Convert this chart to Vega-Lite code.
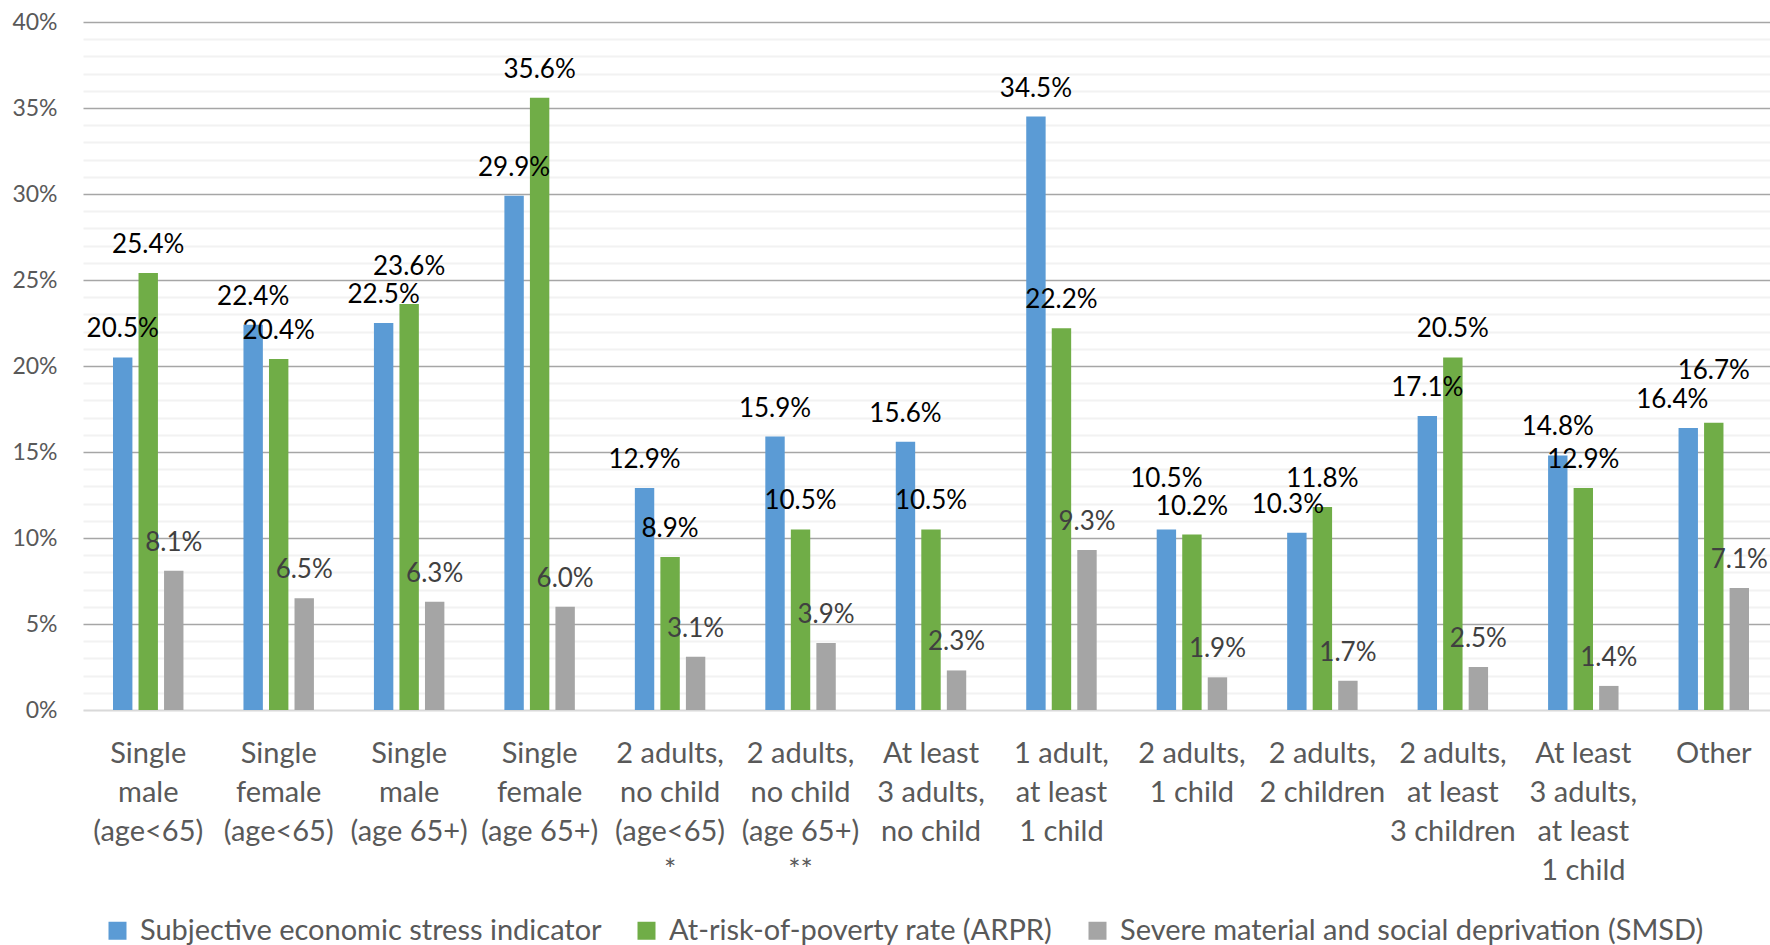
{
  "$schema": "https://vega.github.io/schema/vega-lite/v6.json",
  "width": 1687,
  "height": 688,
  "autosize": {"type": "none"},
  "padding": {"left": 83, "top": 22, "right": 0, "bottom": 235},
  "background": "white",
  "config": {
    "font": "Lato",
    "view": {"stroke": null}
  },
  "data": {
    "values": [
      {"group": "Single|male|(age<65)", "series": "Subjective economic stress indicator", "value": 0.205},
      {"group": "Single|male|(age<65)", "series": "At-risk-of-poverty rate (ARPR)", "value": 0.254},
      {"group": "Single|male|(age<65)", "series": "Severe material and social deprivation (SMSD)", "value": 0.081},
      {"group": "Single|female|(age<65)", "series": "Subjective economic stress indicator", "value": 0.224},
      {"group": "Single|female|(age<65)", "series": "At-risk-of-poverty rate (ARPR)", "value": 0.204},
      {"group": "Single|female|(age<65)", "series": "Severe material and social deprivation (SMSD)", "value": 0.065},
      {"group": "Single|male|(age 65+)", "series": "Subjective economic stress indicator", "value": 0.225},
      {"group": "Single|male|(age 65+)", "series": "At-risk-of-poverty rate (ARPR)", "value": 0.236},
      {"group": "Single|male|(age 65+)", "series": "Severe material and social deprivation (SMSD)", "value": 0.063},
      {"group": "Single|female|(age 65+)", "series": "Subjective economic stress indicator", "value": 0.299},
      {"group": "Single|female|(age 65+)", "series": "At-risk-of-poverty rate (ARPR)", "value": 0.356},
      {"group": "Single|female|(age 65+)", "series": "Severe material and social deprivation (SMSD)", "value": 0.060},
      {"group": "2 adults,|no child|(age<65)|*", "series": "Subjective economic stress indicator", "value": 0.129},
      {"group": "2 adults,|no child|(age<65)|*", "series": "At-risk-of-poverty rate (ARPR)", "value": 0.089},
      {"group": "2 adults,|no child|(age<65)|*", "series": "Severe material and social deprivation (SMSD)", "value": 0.031},
      {"group": "2 adults,|no child|(age 65+)|**", "series": "Subjective economic stress indicator", "value": 0.159},
      {"group": "2 adults,|no child|(age 65+)|**", "series": "At-risk-of-poverty rate (ARPR)", "value": 0.105},
      {"group": "2 adults,|no child|(age 65+)|**", "series": "Severe material and social deprivation (SMSD)", "value": 0.039},
      {"group": "At least|3 adults,|no child", "series": "Subjective economic stress indicator", "value": 0.156},
      {"group": "At least|3 adults,|no child", "series": "At-risk-of-poverty rate (ARPR)", "value": 0.105},
      {"group": "At least|3 adults,|no child", "series": "Severe material and social deprivation (SMSD)", "value": 0.023},
      {"group": "1 adult,|at least|1 child", "series": "Subjective economic stress indicator", "value": 0.345},
      {"group": "1 adult,|at least|1 child", "series": "At-risk-of-poverty rate (ARPR)", "value": 0.222},
      {"group": "1 adult,|at least|1 child", "series": "Severe material and social deprivation (SMSD)", "value": 0.093},
      {"group": "2 adults,|1 child", "series": "Subjective economic stress indicator", "value": 0.105},
      {"group": "2 adults,|1 child", "series": "At-risk-of-poverty rate (ARPR)", "value": 0.102},
      {"group": "2 adults,|1 child", "series": "Severe material and social deprivation (SMSD)", "value": 0.019},
      {"group": "2 adults,|2 children", "series": "Subjective economic stress indicator", "value": 0.103},
      {"group": "2 adults,|2 children", "series": "At-risk-of-poverty rate (ARPR)", "value": 0.118},
      {"group": "2 adults,|2 children", "series": "Severe material and social deprivation (SMSD)", "value": 0.017},
      {"group": "2 adults,|at least|3 children", "series": "Subjective economic stress indicator", "value": 0.171},
      {"group": "2 adults,|at least|3 children", "series": "At-risk-of-poverty rate (ARPR)", "value": 0.205},
      {"group": "2 adults,|at least|3 children", "series": "Severe material and social deprivation (SMSD)", "value": 0.025},
      {"group": "At least|3 adults,|at least|1 child", "series": "Subjective economic stress indicator", "value": 0.148},
      {"group": "At least|3 adults,|at least|1 child", "series": "At-risk-of-poverty rate (ARPR)", "value": 0.129},
      {"group": "At least|3 adults,|at least|1 child", "series": "Severe material and social deprivation (SMSD)", "value": 0.014},
      {"group": "Other", "series": "Subjective economic stress indicator", "value": 0.164},
      {"group": "Other", "series": "At-risk-of-poverty rate (ARPR)", "value": 0.167},
      {"group": "Other", "series": "Severe material and social deprivation (SMSD)", "value": 0.071}
    ]
  },
  "encoding": {
    "x": {
      "field": "group",
      "type": "nominal",
      "sort": null,
      "title": null,
      "scale": {"range": [0, 1696], "paddingInner": 0.46, "paddingOuter": 0.23},
      "axis": {
        "labelExpr": "split(datum.label, '|')",
        "labelAngle": 0,
        "labelFontSize": 29,
        "labelLineHeight": 39,
        "labelColor": "#595959",
        "labelPadding": 29,
        "labelLimit": 0,
        "ticks": false,
        "domainColor": "#d9d9d9",
        "domainWidth": 2,
        "grid": false
      }
    },
    "xOffset": {
      "field": "series",
      "sort": ["Subjective economic stress indicator", "At-risk-of-poverty rate (ARPR)", "Severe material and social deprivation (SMSD)"],
      "scale": {"paddingInner": 0.24}
    },
    "y": {
      "field": "value",
      "type": "quantitative",
      "title": null,
      "scale": {"domain": [0, 0.4], "nice": false},
      "axis": {
        "values": [0, 0.01, 0.02, 0.03, 0.04, 0.05, 0.06, 0.07, 0.08, 0.09, 0.1, 0.11, 0.12, 0.13, 0.14, 0.15, 0.16, 0.17, 0.18, 0.19, 0.2, 0.21, 0.22, 0.23, 0.24, 0.25, 0.26, 0.27, 0.28, 0.29, 0.3, 0.31, 0.32, 0.33, 0.34, 0.35, 0.36, 0.37, 0.38, 0.39, 0.4],
        "labelExpr": "round(datum.value * 100) % 5 == 0 ? format(datum.value, '.0%') : ''",
        "labelFontSize": 23,
        "labelColor": "#595959",
        "labelPadding": 26,
        "ticks": false,
        "domain": false,
        "gridColor": {"condition": {"test": "round(datum.value * 100) % 5 == 0 && datum.value > 0", "value": "#a6a6a6"}, "value": "#f2f2f2"},
        "gridWidth": {"condition": {"test": "round(datum.value * 100) % 5 == 0", "value": 1.5}, "value": 2}
      }
    }
  },
  "layer": [
    {
      "mark": {"type": "bar"},
      "encoding": {
        "color": {
          "field": "series",
          "type": "nominal",
          "scale": {
            "domain": ["Subjective economic stress indicator", "At-risk-of-poverty rate (ARPR)", "Severe material and social deprivation (SMSD)"],
            "range": ["#5b9bd5", "#70ad47", "#a5a5a5"]
          },
          "legend": {
            "title": null,
            "orient": "none",
            "direction": "horizontal",
            "columns": 3,
            "legendX": 20,
            "legendY": 894,
            "padding": 0,
            "symbolType": "square",
            "symbolSize": 324,
            "symbolStrokeWidth": 0,
            "labelFontSize": 29,
            "labelColor": "#595959",
            "labelOffset": 8,
            "labelLimit": 0,
            "columnPadding": 30
          }
        }
      }
    },
    {
      "mark": {
        "type": "text",
        "fontSize": 26,
        "baseline": "middle",
        "dy": {"expr": "datum.group == 'Other' && datum.series == 'At-risk-of-poverty rate (ARPR)' ? -52 : datum.group == '2 adults,|1 child' && datum.series == 'Subjective economic stress indicator' ? -50 : datum.group == 'Single|male|(age 65+)' && datum.series == 'At-risk-of-poverty rate (ARPR)' ? -37 : -28"},
        "dx": {"expr": "datum.group == 'Other' && datum.series == 'Subjective economic stress indicator' ? -16 : datum.group == '2 adults,|2 children' && datum.series == 'Subjective economic stress indicator' ? -9 : 0"}
      },
      "encoding": {
        "text": {"field": "value", "type": "quantitative", "format": ".1%"},
        "color": {
          "condition": {"test": "datum.series == 'Severe material and social deprivation (SMSD)'", "value": "#404040"},
          "value": "#000000"
        }
      }
    }
  ]
}
